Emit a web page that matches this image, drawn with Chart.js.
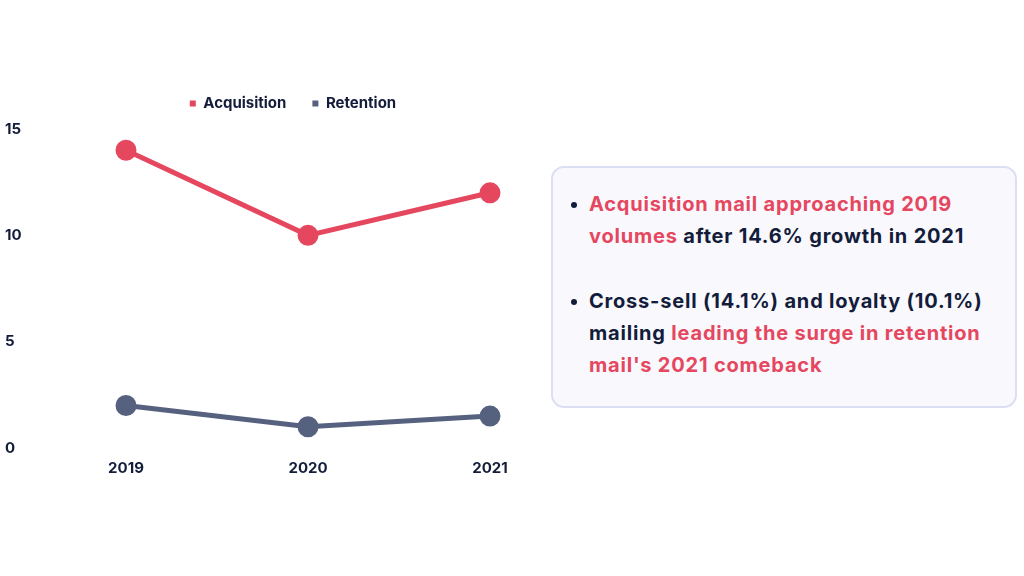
<!DOCTYPE html>
<html>
<head>
<meta charset="utf-8">
<script src="https://cdn.jsdelivr.net/npm/chart.js@4"></script>
<style>
  html,body{margin:0;padding:0;background:#fff;}
  body{width:1024px;height:576px;position:relative;overflow:hidden;font-family:Inter,"DejaVu Sans",sans-serif;}
  #wrap{position:absolute;left:0;top:0;width:596px;height:576px;}
  .note{position:absolute;left:551px;top:166px;width:466px;height:242px;box-sizing:border-box;border:2.5px solid #dcdff3;border-radius:13px;background:#f8f8fd;}
  .note ul{margin:0;padding:0;list-style:none;position:absolute;left:36px;top:20px;width:398px;}
  .note li{position:relative;font-weight:700;font-size:20px;line-height:32px;color:#131c3a;margin-bottom:33px;letter-spacing:0.8px;}
  .note li:before{content:'';position:absolute;left:-18px;top:14px;width:6px;height:6px;border-radius:3px;background:#131c3a;}
  .pk{color:#e5475f;}
</style>
</head>
<body>
<div id="wrap"><canvas id="chart"></canvas></div>
<div class="note">
  <ul>
    <li><span class="pk">Acquisition mail approaching 2019 volumes</span> after 14.6% growth in 2021</li>
    <li>Cross-sell (14.1%) and loyalty (10.1%) mailing <span class="pk">leading the surge in retention mail's 2021 comeback</span></li>
  </ul>
</div>
<script>
const years=['2019','2020','2021'];
const acquisition=[14,10,12];
const retention=[2,1,1.5];
const yTicks=[0,5,10,15];

const PINK='#e5475f', SLATE='#56617f', INK='#131c3a';
const font={family:'Inter, "DejaVu Sans", sans-serif',size:15,weight:'700'};

// push the plot down a little below the legend
const legendGap={id:'legendGap',beforeInit(chart){
  const orig=chart.legend.fit;
  chart.legend.fit=function(){orig.call(this);this.height+=8;};
}};

new Chart(document.getElementById('chart'),{
  type:'line',
  data:{labels:years,datasets:[
    {label:'Acquisition',data:acquisition,borderColor:PINK,backgroundColor:PINK,borderWidth:5,pointRadius:8,pointHoverRadius:8,tension:0},
    {label:'Retention',data:retention,borderColor:SLATE,backgroundColor:SLATE,borderWidth:5,pointRadius:8,pointHoverRadius:8,tension:0}
  ]},
  plugins:[legendGap],
  options:{
    responsive:true,maintainAspectRatio:false,animation:false,
    layout:{padding:{left:5,right:15,top:70,bottom:0}},
    plugins:{
      legend:{labels:{color:INK,font,boxWidth:6,boxHeight:6,padding:26,
        generateLabels:c=>c.data.datasets.map((d,i)=>({text:d.label,fillStyle:d.borderColor,strokeStyle:d.borderColor,lineWidth:0,fontColor:INK,datasetIndex:i}))}},
      tooltip:{enabled:false}
    },
    scales:{
      x:{offset:true,grid:{display:false,drawTicks:false},border:{display:false},
         ticks:{color:INK,font,padding:11},
         afterFit:s=>{s.height=128;}},
      y:{min:0,max:15,grid:{display:false,drawTicks:false},border:{display:false},
         afterBuildTicks:s=>{s.ticks=yTicks.map(v=>({value:v}));},
         ticks:{color:INK,font,crossAlign:'far',padding:0},
         afterFit:s=>{s.width=30;}}
    }
  }
});
</script>
</body>
</html>
